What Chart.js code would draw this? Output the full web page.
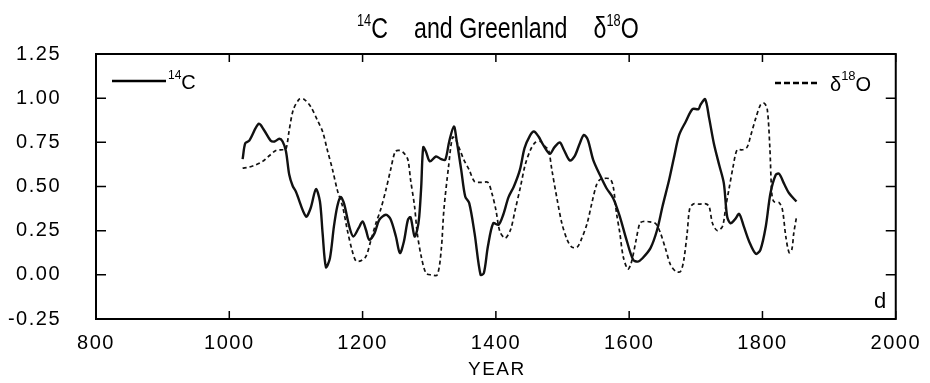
<!DOCTYPE html>
<html>
<head>
<meta charset="utf-8">
<script src="https://cdn.jsdelivr.net/npm/chart.js@4.4.0/dist/chart.umd.min.js"></script>
<style>
  html, body { margin: 0; padding: 0; background: #fff; }
  #wrap { width: 930px; height: 383px; }
</style>
</head>
<body>
<div id="wrap"><canvas id="myChart" width="930" height="383"></canvas></div>
<script>
// 14C series
const c14Years = [1020, 1024, 1030, 1044, 1052, 1062, 1068, 1075, 1080, 1085, 1090, 1095, 1100, 1115, 1122, 1130, 1136, 1140, 1145, 1151,
  1157, 1162, 1167, 1172, 1180, 1186, 1194, 1200, 1205, 1210, 1218, 1225, 1235, 1242, 1250, 1256, 1262, 1268, 1272, 1278,
  1282, 1285, 1288, 1291, 1295, 1301, 1310, 1318, 1324, 1330, 1337, 1341, 1348, 1354, 1360, 1368, 1377, 1382, 1388, 1396,
  1404, 1411, 1419, 1427, 1436, 1443, 1451, 1457, 1464, 1471, 1481, 1488, 1496, 1502, 1511, 1518, 1526, 1532, 1538, 1546,
  1556, 1566, 1576, 1586, 1596, 1606, 1613, 1620, 1632, 1642, 1650, 1660, 1667, 1675, 1685, 1695, 1704, 1707, 1714, 1720,
  1727, 1735, 1742, 1747, 1752, 1759, 1765, 1772, 1780, 1790, 1797, 1805, 1812, 1820, 1825, 1832, 1840, 1851];
const c14Values = [0.655, 0.745, 0.76, 0.855, 0.82, 0.76, 0.755, 0.77, 0.755, 0.70, 0.566, 0.504, 0.47, 0.33, 0.377, 0.485, 0.415, 0.236, 0.043, 0.094,
  0.274, 0.387, 0.44, 0.406, 0.274, 0.217, 0.264, 0.302, 0.255, 0.198, 0.236, 0.311, 0.34, 0.315, 0.217, 0.123, 0.189, 0.311, 0.326, 0.217,
  0.255, 0.33, 0.5, 0.723, 0.698, 0.642, 0.67, 0.655, 0.651, 0.755, 0.84, 0.764, 0.594, 0.443, 0.406, 0.236, 0.0, 0.01, 0.16, 0.292,
  0.283, 0.34, 0.44, 0.5, 0.594, 0.717, 0.787, 0.811, 0.783, 0.736, 0.685, 0.723, 0.749, 0.708, 0.647, 0.67, 0.745, 0.792, 0.764, 0.651,
  0.566, 0.49, 0.434, 0.33, 0.198, 0.085, 0.075, 0.094, 0.151, 0.255, 0.387, 0.538, 0.66, 0.792, 0.868, 0.938, 0.938, 0.962, 0.994, 0.887,
  0.745, 0.623, 0.519, 0.33, 0.292, 0.315, 0.345, 0.274, 0.189, 0.119, 0.142, 0.274, 0.462, 0.566, 0.572, 0.519, 0.462, 0.415];

// Greenland d18O series
const o18Years = [1020, 1030, 1040, 1050, 1060, 1070, 1080, 1085, 1090, 1096, 1105, 1112, 1122, 1132, 1140, 1147, 1155, 1162, 1170, 1177,
  1184, 1190, 1197, 1205, 1212, 1220, 1227, 1235, 1242, 1249, 1255, 1262, 1268, 1272, 1278, 1282, 1288, 1295, 1302, 1312,
  1318, 1322, 1329, 1335, 1340, 1346, 1352, 1360, 1368, 1378, 1388, 1394, 1400, 1406, 1414, 1422, 1429, 1437, 1444, 1452,
  1459, 1467, 1474, 1479, 1484, 1492, 1499, 1507, 1514, 1522, 1529, 1537, 1544, 1551, 1557, 1571, 1576, 1581, 1586, 1591,
  1598, 1603, 1610, 1616, 1621, 1631, 1640, 1647, 1655, 1662, 1670, 1677, 1682, 1687, 1691, 1697, 1705, 1715, 1720, 1725,
  1732, 1740, 1745, 1750, 1756, 1762, 1770, 1777, 1782, 1790, 1797, 1802, 1807, 1811, 1814, 1817, 1825, 1830, 1835, 1840,
  1844, 1847, 1851];
const o18Values = [0.604, 0.61, 0.623, 0.642, 0.674, 0.704, 0.708, 0.711, 0.821, 0.934, 0.994, 0.994, 0.953, 0.877, 0.811, 0.708, 0.594, 0.481, 0.387, 0.255,
  0.142, 0.079, 0.079, 0.104, 0.189, 0.292, 0.368, 0.481, 0.594, 0.698, 0.704, 0.689, 0.651, 0.538, 0.387, 0.236, 0.104, 0.01, 0.0, 0.0,
  0.142, 0.368, 0.613, 0.779, 0.764, 0.708, 0.651, 0.594, 0.528, 0.523, 0.523, 0.462, 0.368, 0.245, 0.208, 0.255, 0.368, 0.5, 0.623, 0.708,
  0.749, 0.755, 0.726, 0.708, 0.594, 0.425, 0.292, 0.198, 0.157, 0.157, 0.208, 0.292, 0.406, 0.509, 0.541, 0.543, 0.5, 0.349, 0.236, 0.104,
  0.032, 0.066, 0.189, 0.292, 0.302, 0.3, 0.289, 0.236, 0.142, 0.057, 0.019, 0.019, 0.085, 0.236, 0.377, 0.402, 0.4, 0.402, 0.387, 0.292,
  0.251, 0.274, 0.387, 0.49, 0.613, 0.708, 0.708, 0.723, 0.783, 0.887, 0.962, 0.972, 0.943, 0.726, 0.462, 0.415, 0.409, 0.368, 0.217, 0.126,
  0.142, 0.236, 0.326];

// axis ticks
const yearTicks = [800, 1000, 1200, 1400, 1600, 1800, 2000];
const valueTicks = [-0.25, 0, 0.25, 0.5, 0.75, 1.0, 1.25];

const FONT = "'Liberation Sans', Arial, Helvetica, sans-serif";

function zip(xs, ys) {
  return xs.map((x, i) => ({ x: x, y: ys[i] }));
}

// draws pieces of text one after another, some of them raised
function drawPieces(ctx, x, y, pieces, sx) {
  sx = sx || 1;
  ctx.save();
  ctx.textAlign = 'left';
  ctx.textBaseline = 'alphabetic';
  for (const p of pieces) {
    if (p.gap) { x += p.gap; continue; }
    ctx.font = p.size + 'px ' + FONT;
    ctx.save();
    ctx.translate(x, y + (p.dy || 0));
    ctx.scale(sx, 1);
    ctx.fillText(p.t, 0, 0);
    ctx.restore();
    x += ctx.measureText(p.t).width * sx;
  }
  ctx.restore();
}

const decor = {
  id: 'decor',
  beforeDraw(chart) {
    // the scanned figure has wide, loose digits
    chart.ctx.letterSpacing = '1.5px';
  },
  afterDraw(chart) {
    const ctx = chart.ctx;
    ctx.letterSpacing = '0px';
    const a = chart.chartArea;
    const xs = chart.scales.x, ys = chart.scales.y;
    ctx.save();
    ctx.strokeStyle = '#000';
    ctx.lineWidth = 2;
    ctx.strokeRect(a.left, a.top, a.right - a.left, a.bottom - a.top);
    // inward tick marks
    ctx.lineWidth = 1.5;
    ctx.beginPath();
    valueTicks.forEach(v => {
      const py = ys.getPixelForValue(v);
      ctx.moveTo(a.left, py); ctx.lineTo(a.left + 10, py);
      ctx.moveTo(a.right - 10, py); ctx.lineTo(a.right, py);
    });
    yearTicks.forEach(v => {
      const px = xs.getPixelForValue(v);
      ctx.moveTo(px, a.top); ctx.lineTo(px, a.top + 8);
      ctx.moveTo(px, a.bottom - 8); ctx.lineTo(px, a.bottom);
    });
    ctx.stroke();

    ctx.fillStyle = '#000';
    // title
    drawPieces(ctx, 357, 38, [
      { t: '14', size: 16, dy: -12 }, { t: 'C', size: 29 }, { gap: 26 },
      { t: 'and Greenland', size: 29 }, { gap: 26 },
      { t: 'δ', size: 29 }, { t: '18', size: 16, dy: -12 }, { t: 'O', size: 29 }
    ], 0.8);

    // legend: 14C
    ctx.lineWidth = 2.4;
    ctx.setLineDash([]);
    ctx.beginPath(); ctx.moveTo(112, 81); ctx.lineTo(166, 81); ctx.stroke();
    drawPieces(ctx, 168, 89, [{ t: '14', size: 12, dy: -10 }, { t: 'C', size: 20 }]);

    // legend: d18O
    ctx.lineWidth = 2.5;
    ctx.setLineDash([6, 3]);
    ctx.beginPath(); ctx.moveTo(775, 83); ctx.lineTo(820, 83); ctx.stroke();
    ctx.setLineDash([]);
    drawPieces(ctx, 830, 90.5, [{ t: 'δ', size: 20 }, { t: '18', size: 13, dy: -11 }, { t: 'O', size: 20 }]);

    // panel letter
    ctx.font = '22px ' + FONT;
    ctx.textAlign = 'left';
    ctx.fillText('d', 874, 308);

    // x axis name
    ctx.letterSpacing = '1.5px';
    ctx.font = '19px ' + FONT;
    ctx.textAlign = 'center';
    ctx.fillText('YEAR', xs.getPixelForValue(1400) + 1, 375);
    ctx.letterSpacing = '0px';
    ctx.restore();
  }
};

const ctx = document.getElementById('myChart');
const myChart = new Chart(ctx, {
  type: 'line',
  data: {
    datasets: [{
      label: '14C',
      data: zip(c14Years, c14Values),
      borderColor: '#111',
      borderWidth: 2.4,
      pointRadius: 0,
      tension: 0.3,
      fill: false
    }, {
      label: 'd18O',
      data: zip(o18Years, o18Values),
      borderColor: '#111',
      borderWidth: 1.7,
      borderDash: [4, 3],
      pointRadius: 0,
      tension: 0.3,
      fill: false
    }]
  },
  options: {
    responsive: false,
    animation: false,
    events: [],
    layout: { padding: { top: 54, right: 29, left: 0, bottom: 0 } },
    plugins: {
      legend: { display: false },
      title: { display: false },
      tooltip: { enabled: false }
    },
    scales: {
      x: {
        type: 'linear',
        min: 800,
        max: 2000,
        afterFit: s => { s.height = 64; },
        afterBuildTicks: s => { s.ticks = yearTicks.map(v => ({ value: v })); },
        grid: { display: true, drawOnChartArea: false, drawTicks: false },
        border: { display: false },
        ticks: {
          color: '#000',
          padding: 12,
          maxRotation: 0,
          font: { family: FONT, size: 20 },
          callback: v => String(v)
        }
      },
      y: {
        min: -0.25,
        max: 1.25,
        afterFit: s => { s.width = 96; },
        afterBuildTicks: s => { s.ticks = valueTicks.map(v => ({ value: v })); },
        grid: { display: true, drawOnChartArea: false, drawTicks: false },
        border: { display: false },
        ticks: {
          color: '#000',
          padding: 35,
          font: { family: FONT, size: 20 },
          callback: v => v.toFixed(2)
        }
      }
    }
  },
  plugins: [decor]
});
</script>
</body>
</html>
